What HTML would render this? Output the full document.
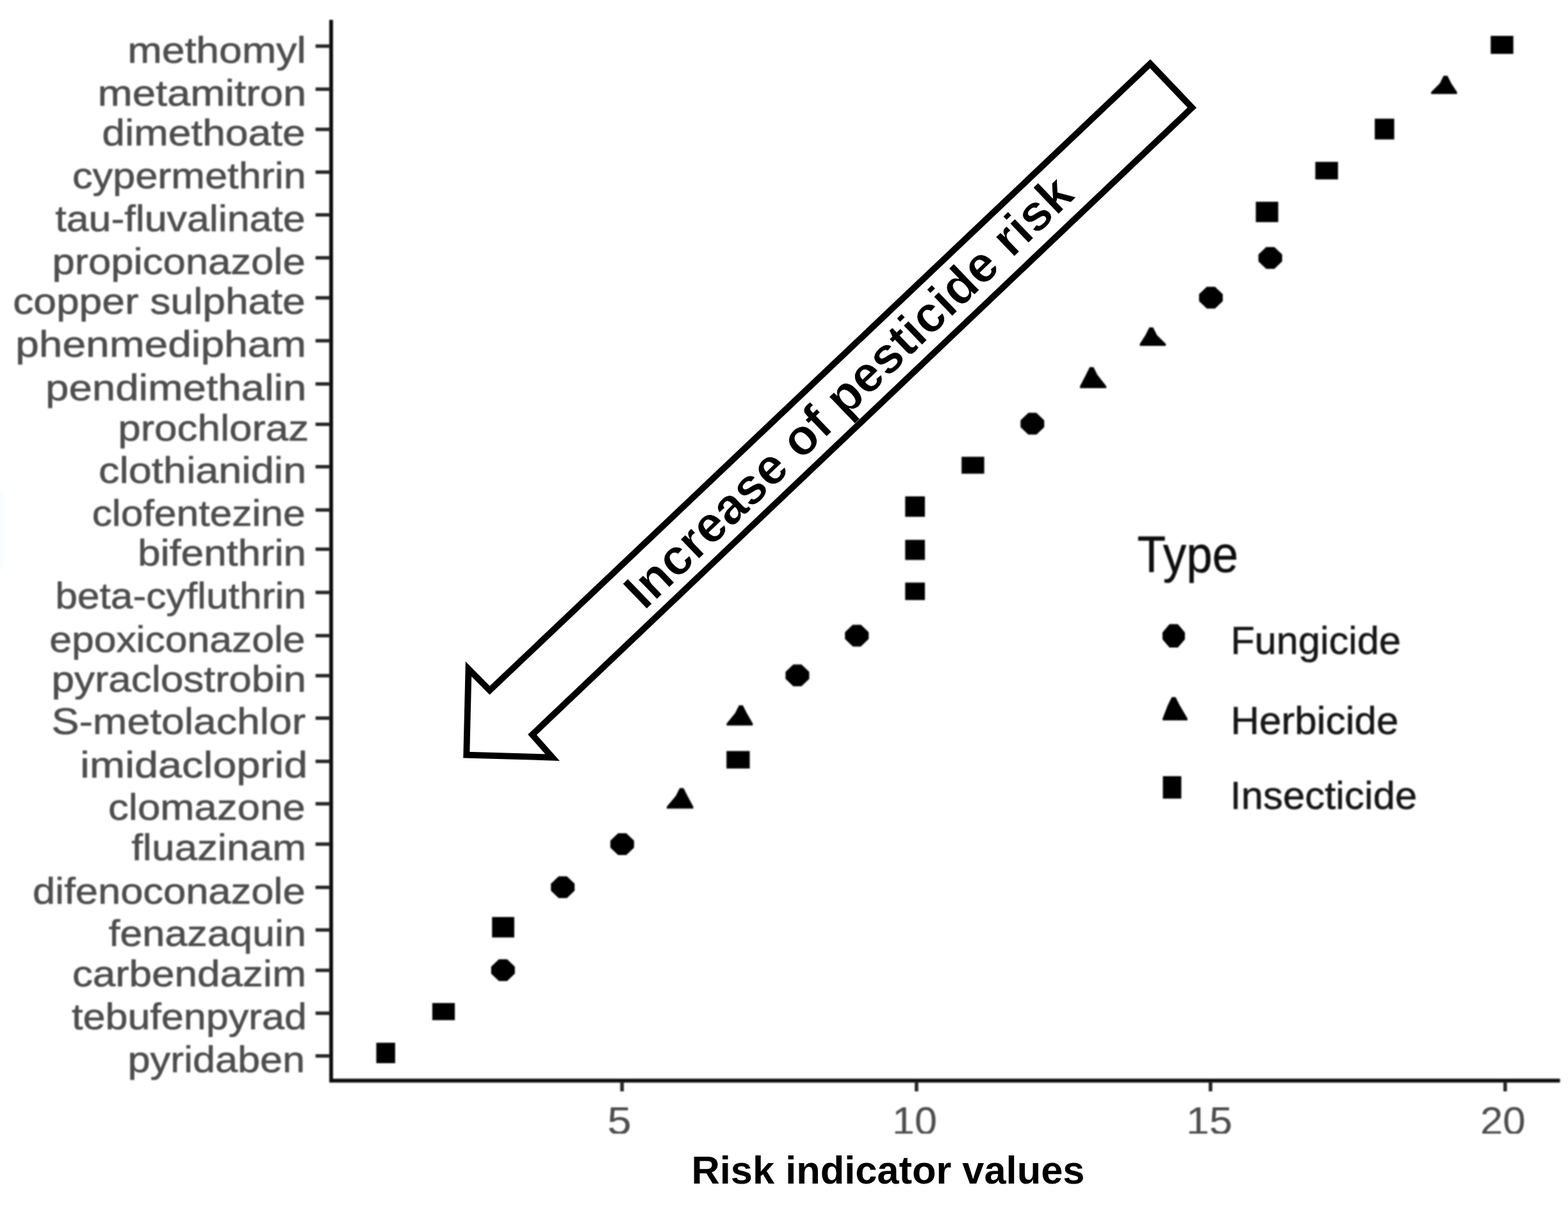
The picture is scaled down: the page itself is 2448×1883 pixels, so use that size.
<!DOCTYPE html>
<html lang="en">
<head>
<meta charset="utf-8">
<title>Risk indicator values by pesticide</title>
<style>
html,body{margin:0;padding:0;background:#fff;}
body{width:2448px;height:1883px;overflow:hidden;}
svg{display:block;}
svg text{font-family:"Liberation Sans",Arial,Helvetica,sans-serif;white-space:pre;}
</style>
</head>
<body>
<svg width="2448" height="1883" viewBox="0 0 2448 1883">
<defs>
<filter id="soft3" filterUnits="userSpaceOnUse" x="-20" y="740" width="60" height="230"><feGaussianBlur stdDeviation="4"/></filter>
<filter id="soft" filterUnits="userSpaceOnUse" x="0" y="0" width="2448" height="1883"><feGaussianBlur stdDeviation="1.2"/></filter>
<linearGradient id="edge" x1="0" x2="1" y1="0" y2="0"><stop offset="0" stop-color="#dff8ff"/><stop offset="1" stop-color="#ffffff"/></linearGradient>
</defs>
<rect width="2448" height="1883" fill="#fff"/>
<rect x="-5" y="768" width="11" height="120" fill="url(#edge)" opacity="0.8" filter="url(#soft3)"/>
<g id="plot" filter="url(#soft)">
<g id="axes" fill="none" stroke="#0d0d0d" stroke-width="5.9">
<polyline points="517.0,31 517.0,1687.2 2435.5,1687.2" stroke-linejoin="miter"/>
</g>
<g id="yticks" stroke="#262626" stroke-width="5.4">
<line x1="492.6" y1="72.00" x2="515.0" y2="72.00"/>
<line x1="492.6" y1="139.25" x2="515.0" y2="139.25"/>
<line x1="492.6" y1="202.00" x2="515.0" y2="202.00"/>
<line x1="492.6" y1="268.75" x2="515.0" y2="268.75"/>
<line x1="492.6" y1="335.50" x2="515.0" y2="335.50"/>
<line x1="492.6" y1="402.50" x2="515.0" y2="402.50"/>
<line x1="492.6" y1="465.00" x2="515.0" y2="465.00"/>
<line x1="492.6" y1="532.00" x2="515.0" y2="532.00"/>
<line x1="492.6" y1="599.50" x2="515.0" y2="599.50"/>
<line x1="492.6" y1="662.50" x2="515.0" y2="662.50"/>
<line x1="492.6" y1="728.75" x2="515.0" y2="728.75"/>
<line x1="492.6" y1="796.25" x2="515.0" y2="796.25"/>
<line x1="492.6" y1="857.50" x2="515.0" y2="857.50"/>
<line x1="492.6" y1="925.00" x2="515.0" y2="925.00"/>
<line x1="492.6" y1="992.50" x2="515.0" y2="992.50"/>
<line x1="492.6" y1="1055.00" x2="515.0" y2="1055.00"/>
<line x1="492.6" y1="1121.25" x2="515.0" y2="1121.25"/>
<line x1="492.6" y1="1188.75" x2="515.0" y2="1188.75"/>
<line x1="492.6" y1="1255.00" x2="515.0" y2="1255.00"/>
<line x1="492.6" y1="1318.00" x2="515.0" y2="1318.00"/>
<line x1="492.6" y1="1385.50" x2="515.0" y2="1385.50"/>
<line x1="492.6" y1="1452.00" x2="515.0" y2="1452.00"/>
<line x1="492.6" y1="1515.00" x2="515.0" y2="1515.00"/>
<line x1="492.6" y1="1582.00" x2="515.0" y2="1582.00"/>
<line x1="492.6" y1="1648.70" x2="515.0" y2="1648.70"/>
</g>
<g id="xticks" stroke="#262626" stroke-width="5.6">
<line x1="971.1" y1="1689.2" x2="971.1" y2="1704"/>
<line x1="1430.9" y1="1689.2" x2="1430.9" y2="1704"/>
<line x1="1889.9" y1="1689.2" x2="1889.9" y2="1704"/>
<line x1="2349.9" y1="1689.2" x2="2349.9" y2="1704"/>
</g>
<g id="ylabels">
<text transform="translate(199.16 98.00) scale(1.1161 1)" font-size="57.6" font-weight="normal" fill="#4d4d4d" stroke="#4d4d4d" stroke-width="0.7">methomyl</text>
<text transform="translate(152.40 164.95) scale(1.1314 1)" font-size="57.6" font-weight="normal" fill="#4d4d4d" stroke="#4d4d4d" stroke-width="0.7">metamitron</text>
<text transform="translate(159.27 227.40) scale(1.1140 1)" font-size="57.6" font-weight="normal" fill="#4d4d4d" stroke="#4d4d4d" stroke-width="0.7">dimethoate</text>
<text transform="translate(112.91 293.75) scale(1.0969 1)" font-size="57.6" font-weight="normal" fill="#4d4d4d" stroke="#4d4d4d" stroke-width="0.7">cypermethrin</text>
<text transform="translate(86.26 360.50) scale(1.0888 1)" font-size="57.6" font-weight="normal" fill="#4d4d4d" stroke="#4d4d4d" stroke-width="0.7">tau-fluvalinate</text>
<text transform="translate(81.57 427.50) scale(1.1020 1)" font-size="57.6" font-weight="normal" fill="#4d4d4d" stroke="#4d4d4d" stroke-width="0.7">propiconazole</text>
<text transform="translate(20.17 490.00) scale(1.1140 1)" font-size="57.6" font-weight="normal" fill="#4d4d4d" stroke="#4d4d4d" stroke-width="0.7">copper sulphate</text>
<text transform="translate(24.22 557.00) scale(1.1437 1)" font-size="57.6" font-weight="normal" fill="#4d4d4d" stroke="#4d4d4d" stroke-width="0.7">phenmedipham</text>
<text transform="translate(71.05 624.50) scale(1.1357 1)" font-size="57.6" font-weight="normal" fill="#4d4d4d" stroke="#4d4d4d" stroke-width="0.7">pendimethalin</text>
<text transform="translate(184.35 687.50) scale(1.1076 1)" font-size="57.6" font-weight="normal" fill="#4d4d4d" stroke="#4d4d4d" stroke-width="0.7">prochloraz</text>
<text transform="translate(154.05 753.75) scale(1.1250 1)" font-size="57.6" font-weight="normal" fill="#4d4d4d" stroke="#4d4d4d" stroke-width="0.7">clothianidin</text>
<text transform="translate(143.65 821.25) scale(1.0837 1)" font-size="57.6" font-weight="normal" fill="#4d4d4d" stroke="#4d4d4d" stroke-width="0.7">clofentezine</text>
<text transform="translate(215.04 882.50) scale(1.1108 1)" font-size="57.6" font-weight="normal" fill="#4d4d4d" stroke="#4d4d4d" stroke-width="0.7">bifenthrin</text>
<text transform="translate(86.14 950.00) scale(1.0834 1)" font-size="57.6" font-weight="normal" fill="#4d4d4d" stroke="#4d4d4d" stroke-width="0.7">beta-cyfluthrin</text>
<text transform="translate(77.14 1017.50) scale(1.0850 1)" font-size="57.6" font-weight="normal" fill="#4d4d4d" stroke="#4d4d4d" stroke-width="0.7">epoxiconazole</text>
<text transform="translate(80.45 1080.00) scale(1.1092 1)" font-size="57.6" font-weight="normal" fill="#4d4d4d" stroke="#4d4d4d" stroke-width="0.7">pyraclostrobin</text>
<text transform="translate(80.61 1146.25) scale(1.1160 1)" font-size="57.6" font-weight="normal" fill="#4d4d4d" stroke="#4d4d4d" stroke-width="0.7">S-metolachlor</text>
<text transform="translate(125.01 1213.75) scale(1.1561 1)" font-size="57.6" font-weight="normal" fill="#4d4d4d" stroke="#4d4d4d" stroke-width="0.7">imidacloprid</text>
<text transform="translate(169.00 1280.00) scale(1.1049 1)" font-size="57.6" font-weight="normal" fill="#4d4d4d" stroke="#4d4d4d" stroke-width="0.7">clomazone</text>
<text transform="translate(205.14 1343.00) scale(1.1074 1)" font-size="57.6" font-weight="normal" fill="#4d4d4d" stroke="#4d4d4d" stroke-width="0.7">fluazinam</text>
<text transform="translate(50.91 1410.50) scale(1.0988 1)" font-size="57.6" font-weight="normal" fill="#4d4d4d" stroke="#4d4d4d" stroke-width="0.7">difenoconazole</text>
<text transform="translate(169.65 1477.00) scale(1.0945 1)" font-size="57.6" font-weight="normal" fill="#4d4d4d" stroke="#4d4d4d" stroke-width="0.7">fenazaquin</text>
<text transform="translate(112.89 1540.00) scale(1.1076 1)" font-size="57.6" font-weight="normal" fill="#4d4d4d" stroke="#4d4d4d" stroke-width="0.7">carbendazim</text>
<text transform="translate(112.06 1607.00) scale(1.0914 1)" font-size="57.6" font-weight="normal" fill="#4d4d4d" stroke="#4d4d4d" stroke-width="0.7">tebufenpyrad</text>
<text transform="translate(199.40 1673.70) scale(1.0942 1)" font-size="57.6" font-weight="normal" fill="#4d4d4d" stroke="#4d4d4d" stroke-width="0.7">pyridaben</text>
</g>
<clipPath id="xclip"><rect x="900" y="1700" width="1548" height="70"/></clipPath>
<g id="xlabels" clip-path="url(#xclip)">
<text transform="translate(948.31 1770.60) scale(1.0954 1)" font-size="61.5" font-weight="normal" fill="#4d4d4d" stroke="#4d4d4d" stroke-width="0.2">5</text>
<text transform="translate(1393.09 1770.60) scale(1.0204 1)" font-size="61.5" font-weight="normal" fill="#4d4d4d" stroke="#4d4d4d" stroke-width="0.2">10</text>
<text transform="translate(1851.95 1770.60) scale(1.0524 1)" font-size="61.5" font-weight="normal" fill="#4d4d4d" stroke="#4d4d4d" stroke-width="0.2">15</text>
<text transform="translate(2310.92 1770.60) scale(1.0337 1)" font-size="61.5" font-weight="normal" fill="#4d4d4d" stroke="#4d4d4d" stroke-width="0.2">20</text>
</g>
</g>
<text transform="translate(1079.46 1848.20) scale(1.0096 1)" font-size="60.8" font-weight="bold" fill="#000">Risk indicator values</text>
<g id="plot2" filter="url(#soft)">
<g id="points" fill="#000">
<rect x="2327.3" y="56.0" width="35.4" height="28.1"/>
<rect x="2146.3" y="185.3" width="30.4" height="32.4"/>
<rect x="2053.5" y="252.7" width="35.4" height="27.4"/>
<rect x="1960.6" y="315.0" width="35.0" height="31.8"/>
<rect x="1501.2" y="713.2" width="35.4" height="26.4"/>
<rect x="1413.2" y="775.0" width="30.8" height="31.9"/>
<rect x="1413.2" y="842.9" width="30.8" height="31.4"/>
<rect x="1413.2" y="909.6" width="30.8" height="27.3"/>
<rect x="1134.2" y="1172.6" width="36.3" height="27.3"/>
<rect x="768.2" y="1431.8" width="34.7" height="31.9"/>
<rect x="674.9" y="1566.1" width="35.2" height="26.7"/>
<rect x="587.5" y="1628.1" width="29.4" height="31.9"/>
<polygon points="1977.2,386.8 1989.2,386.8 2000.7,397.8 2000.7,407.8 1989.2,418.8 1977.2,418.8 1965.7,407.8 1965.7,397.8" stroke="#000" stroke-width="2" stroke-linejoin="round"/>
<polygon points="1884.5,448.7 1896.5,448.7 1908.0,459.7 1908.0,469.7 1896.5,480.7 1884.5,480.7 1873.0,469.7 1873.0,459.7" stroke="#000" stroke-width="2" stroke-linejoin="round"/>
<polygon points="1605.8,645.6 1617.8,645.6 1629.3,656.6 1629.3,666.6 1617.8,677.6 1605.8,677.6 1594.3,666.6 1594.3,656.6" stroke="#000" stroke-width="2" stroke-linejoin="round"/>
<polygon points="1331.7,976.4 1343.7,976.4 1355.2,987.4 1355.2,997.4 1343.7,1008.4 1331.7,1008.4 1320.2,997.4 1320.2,987.4" stroke="#000" stroke-width="2" stroke-linejoin="round"/>
<polygon points="1238.9,1038.5 1250.9,1038.5 1262.4,1049.5 1262.4,1059.5 1250.9,1070.5 1238.9,1070.5 1227.4,1059.5 1227.4,1049.5" stroke="#000" stroke-width="2" stroke-linejoin="round"/>
<polygon points="965.4,1302.0 977.4,1302.0 988.9,1313.0 988.9,1323.0 977.4,1334.0 965.4,1334.0 953.9,1323.0 953.9,1313.0" stroke="#000" stroke-width="2" stroke-linejoin="round"/>
<polygon points="872.6,1369.3 884.6,1369.3 896.1,1380.3 896.1,1390.3 884.6,1401.3 872.6,1401.3 861.1,1390.3 861.1,1380.3" stroke="#000" stroke-width="2" stroke-linejoin="round"/>
<polygon points="779.3,1498.7 791.3,1498.7 802.8,1509.7 802.8,1519.7 791.3,1530.7 779.3,1530.7 767.8,1519.7 767.8,1509.7" stroke="#000" stroke-width="2" stroke-linejoin="round"/>
<polygon points="2253.8,118.2 2259.8,118.2 2265.8,130.2 2274.8,143.8 2274.8,146.8 2234.3,146.8 2234.3,143.8 2247.8,130.2"/>
<polygon points="1794.3,511.2 1800.3,511.2 1806.3,523.2 1820.2,537.0 1820.2,540.0 1779.5,540.0 1779.5,537.0 1788.3,523.2"/>
<polygon points="1701.3,573.3 1707.3,573.3 1713.3,585.3 1727.2,603.1 1727.2,606.1 1686.1,606.1 1686.1,603.1 1695.3,585.3"/>
<polygon points="1153.8,1101.2 1159.8,1101.2 1165.8,1113.2 1175.3,1129.7 1175.3,1132.7 1134.4,1132.7 1134.4,1129.7 1147.8,1113.2"/>
<polygon points="1061.2,1230.6 1067.2,1230.6 1073.2,1242.6 1082.4,1259.6 1082.4,1262.6 1041.0,1262.6 1041.0,1259.6 1055.2,1242.6"/>
</g>
<g id="legend">
<text transform="translate(1775.46 893.00) scale(0.9090 1)" font-size="80" font-weight="normal" fill="#111" stroke="#111" stroke-width="0.6">Type</text>
<text transform="translate(1921.24 1021.20) scale(0.9972 1)" font-size="61.5" font-weight="normal" fill="#161616" stroke="#161616" stroke-width="0.6">Fungicide</text>
<text transform="translate(1921.17 1145.60) scale(1.0107 1)" font-size="61.5" font-weight="normal" fill="#161616" stroke="#161616" stroke-width="0.6">Herbicide</text>
<text transform="translate(1920.59 1263.00) scale(1.0045 1)" font-size="61.5" font-weight="normal" fill="#161616" stroke="#161616" stroke-width="0.6">Insecticide</text>
<g fill="#000">
<polygon points="1826.4,975.5 1838.4,975.5 1848.9,987.8 1848.9,997.8 1838.4,1010.0 1826.4,1010.0 1815.9,997.8 1815.9,987.8" stroke="#000" stroke-width="2" stroke-linejoin="round"/>
<polygon points="1829.4,1088.5 1835.4,1088.5 1841.4,1100.5 1853.9,1121.7 1853.9,1124.7 1815.1,1124.7 1815.1,1121.7 1823.4,1100.5"/>
<rect x="1815.5" y="1211.9" width="28.8" height="35.0"/>
</g></g>
</g>
<polygon id="arrow-fill" points="1795.7,99.5 1861,168.1 831,1147.1 862.5,1182.6 728.3,1178.7 731.5,1044.5 764.5,1077.9" fill="#fff"/>
<text transform="translate(1009.87 950.61) rotate(-43.8) scale(0.9894 1) translate(-5.33 0)" font-size="79" font-weight="bold" fill="#000" stroke="#fff" stroke-width="0.8">Increase of pesticide risk</text>
<polygon id="arrow" points="1795.7,99.5 1861,168.1 831,1147.1 862.5,1182.6 728.3,1178.7 731.5,1044.5 764.5,1077.9" fill="none" stroke="#000" stroke-width="9.9" stroke-miterlimit="10" stroke-linejoin="miter"/>
</svg>
</body>
</html>
